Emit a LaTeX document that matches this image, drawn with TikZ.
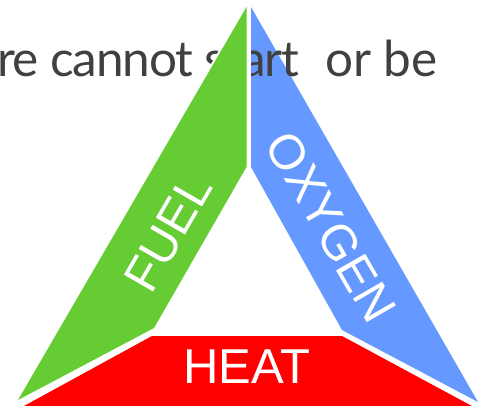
\documentclass[tikz,border=0pt]{standalone}
\usepackage{fontspec}
\setmainfont{Lato}
\newfontfamily\arialfont{Liberation Sans}
\definecolor{fuelgreen}{RGB}{102,204,51}
\definecolor{oxyblue}{RGB}{102,153,255}
\definecolor{heatred}{RGB}{255,0,0}
\definecolor{textgray}{RGB}{64,64,64}
\begin{document}
\begin{tikzpicture}[x=1pt,y=-1pt,
  piecelabel/.style={text=white, font=\arialfont\fontsize{49}{49}\selectfont, inner sep=0pt},
  bgtext/.style={inner sep=0pt, text=textgray, font=\fontsize{49.5}{49.5}\selectfont},
  halo/.style={draw=white, line width=4pt, line join=round}]
\useasboundingbox (0,0) rectangle (481,406);
\fill[white] (0,0) rectangle (481,406);
% oxygen piece
\fill[oxyblue] (251,7) -- (251,167) -- (342,330) -- (478,402) -- cycle;
% background text
\node[bgtext, anchor=base west] (txt) at (-3,77) {\addfontfeatures{LetterSpace=-2.5}re cannot start};
\node[bgtext, anchor=base east] (txt2) at (438,77) {or be};
\draw[white, line width=4pt] (249,0) -- (249,168);
% fuel piece
\draw[halo] (246.5,7) -- (246.5,167) -- (154,328) -- (18,400) -- cycle;
\fill[fuelgreen] (246.5,7) -- (246.5,167) -- (154,328) -- (18,400) -- cycle;
% heat piece
\fill[heatred] (152,336) -- (342,336) -- (483,412) -- (13,412) -- cycle;
% labels
\node[piecelabel, rotate=60] (fuel) at (168,233) {FUEL};
\node[piecelabel, rotate=-60] (oxygen) at (331,227) {OXYGEN};
\node[piecelabel] (heat) at (247,367) {HEAT};
\end{tikzpicture}
\end{document}
